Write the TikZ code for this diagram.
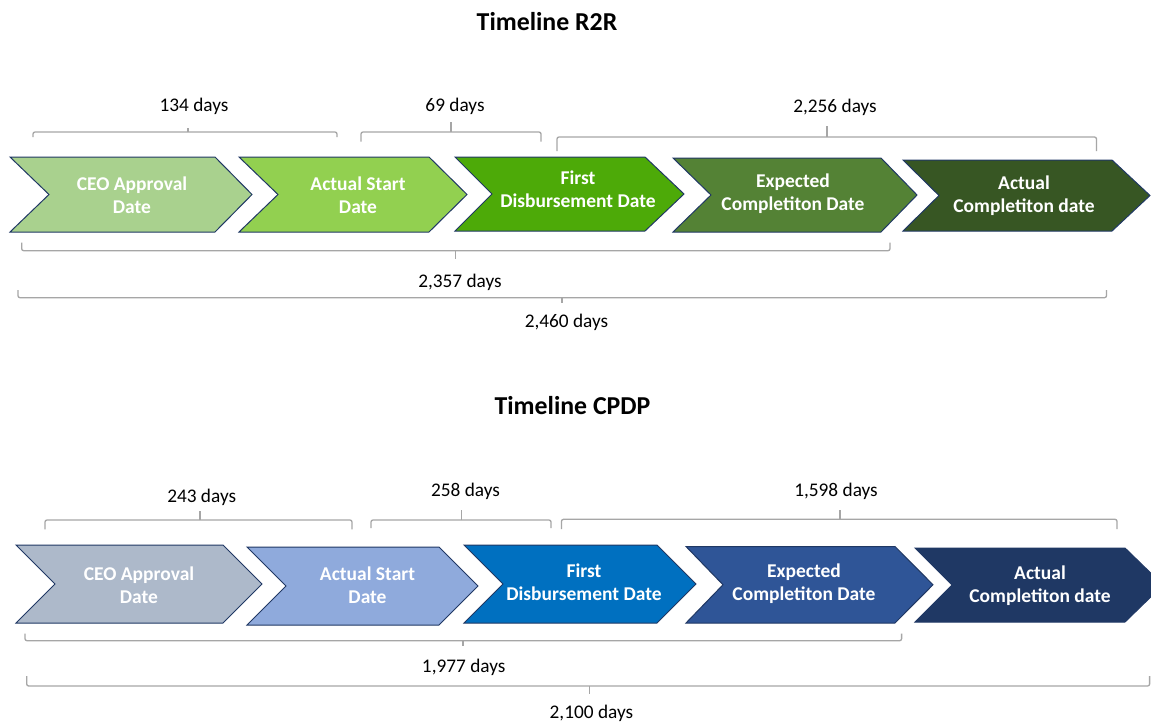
\documentclass[tikz,border=0pt]{standalone}
\usepackage{fontspec}
\setmainfont{Carlito}

% stage fills, R2R (greens)
\definecolor{gA}{HTML}{A9D18E}
\definecolor{gB}{HTML}{92D050}
\definecolor{gC}{HTML}{4DAA08}
\definecolor{gD}{HTML}{548235}
\definecolor{gE}{HTML}{375623}
% stage fills, CPDP (blues)
\definecolor{bA}{HTML}{ADB9CA}
\definecolor{bB}{HTML}{8FAADC}
\definecolor{bC}{HTML}{0070C0}
\definecolor{bD}{HTML}{2F5597}
\definecolor{bE}{HTML}{1F3864}
\definecolor{chevedge}{HTML}{203864}
\definecolor{bracegray}{HTML}{A6A6A6}

% chevron: x left, x top-right corner, x tip, x notch, y top, y bottom, fill
\newcommand\chevronpath[7]{%
  \filldraw[chevline, fill=#7] (#1,#5) -- (#2,#5) -- (#3,{(#5+#6)/2}) -- (#2,#6)
    -- (#1,#6) -- (#4,{(#5+#6)/2}) -- cycle;}
% span bracket: x left, x right, y of the ends, y of the bar, x of the tick, y of the tick end
\newcommand\spanbrace[6]{%
  \draw[braceline] (#1,#3) -- (#1,#4) -- (#2,#4) -- (#2,#3);
  \draw[braceline] (#5,#4) -- (#5,#6);}

\begin{document}
\begin{tikzpicture}[x=1pt,y=-1pt,
  chevline/.style={draw=chevedge, line width=1pt, line join=miter},
  braceline/.style={draw=bracegray, line width=1.3pt, rounded corners=2pt},
  stagelbl/.style={text=white, font=\bfseries\fontsize{19.5}{23}\selectfont, align=center, inner sep=0pt},
  daylbl/.style={text=black, font=\fontsize{19.3}{22}\selectfont, anchor=base, inner sep=0pt},
  titlelbl/.style={text=black, font=\bfseries\fontsize{25.8}{30}\selectfont, anchor=base, inner sep=0pt}]
\clip (0,0) rectangle (1151,723);
\fill[white] (0,0) rectangle (1151,723);

% ---------------- Timeline R2R ----------------
\node[titlelbl] (t1) at (547,30) {Timeline R2R};

\chevronpath{10}{215}{252}{49}{157}{232}{gA}
\chevronpath{239}{429}{467}{278}{157}{232}{gB}
\chevronpath{455}{645}{684}{492}{157}{231}{gC}
\chevronpath{673}{881}{917}{711}{158}{232}{gD}
\chevronpath{903}{1112}{1150}{939}{160}{231}{gE}

\node[stagelbl] (r1) at (132,195.5) {CEO Approval\\Date};
\node[stagelbl] (r2) at (358,195.5) {Actual Start\\Date};
\node[stagelbl] (r3) at (578,189) {First\\Disbursement Date};
\node[stagelbl] (r4) at (793,194) {Expected\\Completiton Date};
\node[stagelbl] (r5) at (1024,196) {Actual\\Completiton date};

\spanbrace{33}{337}{137}{132}{188}{127.5}
\node[daylbl] (d1) at (194,111.5) {134 days};
\spanbrace{361}{541}{141.5}{132}{451}{122}
\node[daylbl] (d2) at (455,111.5) {69 days};
\spanbrace{557}{1096.5}{151}{137}{827}{126}
\node[daylbl] (d3) at (835,112.5) {2,256 days};

\spanbrace{21.7}{890}{242.7}{250.7}{455.5}{259}
\node[daylbl] (d4) at (460,287.5) {2,357 days};
\spanbrace{18}{1106.5}{290}{297.7}{562}{302.5}
\node[daylbl] (d5) at (566.5,327.5) {2,460 days};

% ---------------- Timeline CPDP ----------------
\node[titlelbl] (t2) at (572.5,414) {Timeline CPDP};

\chevronpath{16}{223}{262}{55}{545}{623}{bA}
\chevronpath{247}{439}{478}{286}{547}{625}{bB}
\chevronpath{464}{657}{696}{503}{545}{623}{bC}
\chevronpath{686}{895}{933}{723}{546.5}{623}{bD}
\chevronpath{915}{1125}{1163}{952}{548}{622}{bE}

\node[stagelbl] (c1) at (139,585.5) {CEO Approval\\Date};
\node[stagelbl] (c2) at (367.5,585.5) {Actual Start\\Date};
\node[stagelbl] (c3) at (584,582) {First\\Disbursement Date};
\node[stagelbl] (c4) at (804,584) {Expected\\Completiton Date};
\node[stagelbl] (c5) at (1040,585.5) {Actual\\Completiton date};

\spanbrace{45}{352}{529.3}{520}{200}{510.7}
\node[daylbl] (e1) at (201.7,502) {243 days};
\spanbrace{371}{551}{528}{520}{461.7}{510}
\node[daylbl] (e2) at (465.5,496) {258 days};
\spanbrace{561.5}{1117}{529}{519.3}{840}{510}
\node[daylbl] (e3) at (836,496) {1,598 days};

\spanbrace{25}{901.6}{633.5}{640.7}{463}{646}
\node[daylbl] (e4) at (463.7,672) {1,977 days};
\spanbrace{26.7}{1149.6}{676}{686}{589.6}{694}
\node[daylbl] (e5) at (591.4,718) {2,100 days};
\end{tikzpicture}
\end{document}
